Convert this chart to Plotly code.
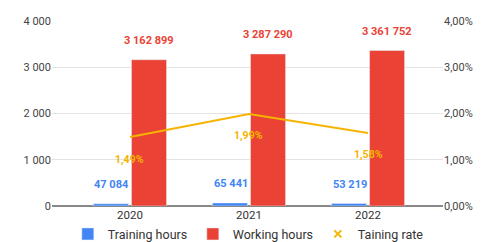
import plotly.graph_objects as go

years = ["2020", "2021", "2022"]
training_hours = [47084, 65441, 53219]
working_hours = [3162899, 3287290, 3361752]
training_rate = [0.0149, 0.0199, 0.0158]
rate_labels = ["1,49%", "1,99%", "1,58%"]

BLUE = "#4285F4"
RED = "#EA4335"
YELLOW = "#F4B400"
FONT = "Roboto"

def fmt(v):
    return f"{v:,}".replace(",", " ")

train_k = [v / 1000 for v in training_hours]
work_k = [v / 1000 for v in working_hours]

fig = go.Figure()
fig.add_trace(go.Bar(x=years, y=train_k, name="Training hours", marker_color=BLUE))
fig.add_trace(go.Bar(x=years, y=work_k, name="Working hours", marker_color=RED))
fig.add_trace(go.Scatter(x=years, y=training_rate, yaxis="y2", mode="lines",
                         line=dict(color=YELLOW, width=2), showlegend=False,
                         name="Taining rate"))
fig.add_trace(go.Scatter(x=[None], y=[None], yaxis="y2", mode="markers",
                         marker=dict(symbol="x-thin", size=7, color=YELLOW,
                                     line=dict(color=YELLOW, width=2)),
                         name="Taining rate"))

ann = []
for i, y in enumerate(years):
    ann.append(dict(x=i, xref="x", y=train_k[i], yref="y", text="<b>" + fmt(training_hours[i]) + "</b>",
                    showarrow=False, xshift=-18, yshift=11, yanchor="bottom",
                    font=dict(family=FONT, size=11, color=BLUE)))
    ann.append(dict(x=i, xref="x", y=work_k[i], yref="y", text="<b>" + fmt(working_hours[i]) + "</b>",
                    showarrow=False, xshift=19, yshift=11, yanchor="bottom",
                    font=dict(family=FONT, size=11, color=RED)))
    ann.append(dict(x=i, xref="x", y=training_rate[i], yref="y2", text="<b>" + rate_labels[i] + "</b>",
                    showarrow=False, yshift=-22, yanchor="middle",
                    font=dict(family=FONT, size=10.5, color=YELLOW)))

fig.update_layout(
    width=481, height=234,
    margin=dict(l=44, r=46, t=13, b=36, autoexpand=False),
    paper_bgcolor="white", plot_bgcolor="white",
    separators=", ",
    barmode="group", bargap=0.36, bargroupgap=0.08,
    font=dict(family=FONT, size=11, color="#444444"),
    xaxis=dict(range=[-0.655, 2.63], showgrid=False, showline=False, ticks="",
               tickfont=dict(size=11.5, color="#333333")),
    yaxis=dict(range=[0, 4000], tickvals=[0, 1000, 2000, 3000, 4000], tickformat=",.0f",
               gridcolor="#E3E3E3", zeroline=True, zerolinecolor="#888888", zerolinewidth=1.5,
               ticks="", tickfont=dict(size=11, color="#444444")),
    yaxis2=dict(range=[0, 0.04], overlaying="y", side="right", tickformat=".2%",
                tickvals=[0, 0.01, 0.02, 0.03, 0.04], showgrid=False, zeroline=False,
                ticks="", tickfont=dict(size=11, color="#444444")),
    legend=dict(orientation="h", x=0.52, xanchor="center", y=-0.234, yanchor="bottom",
                entrywidth=80, font=dict(size=12.5, color="#333333")),
    annotations=ann,
)

fig.write_html("out.html")
